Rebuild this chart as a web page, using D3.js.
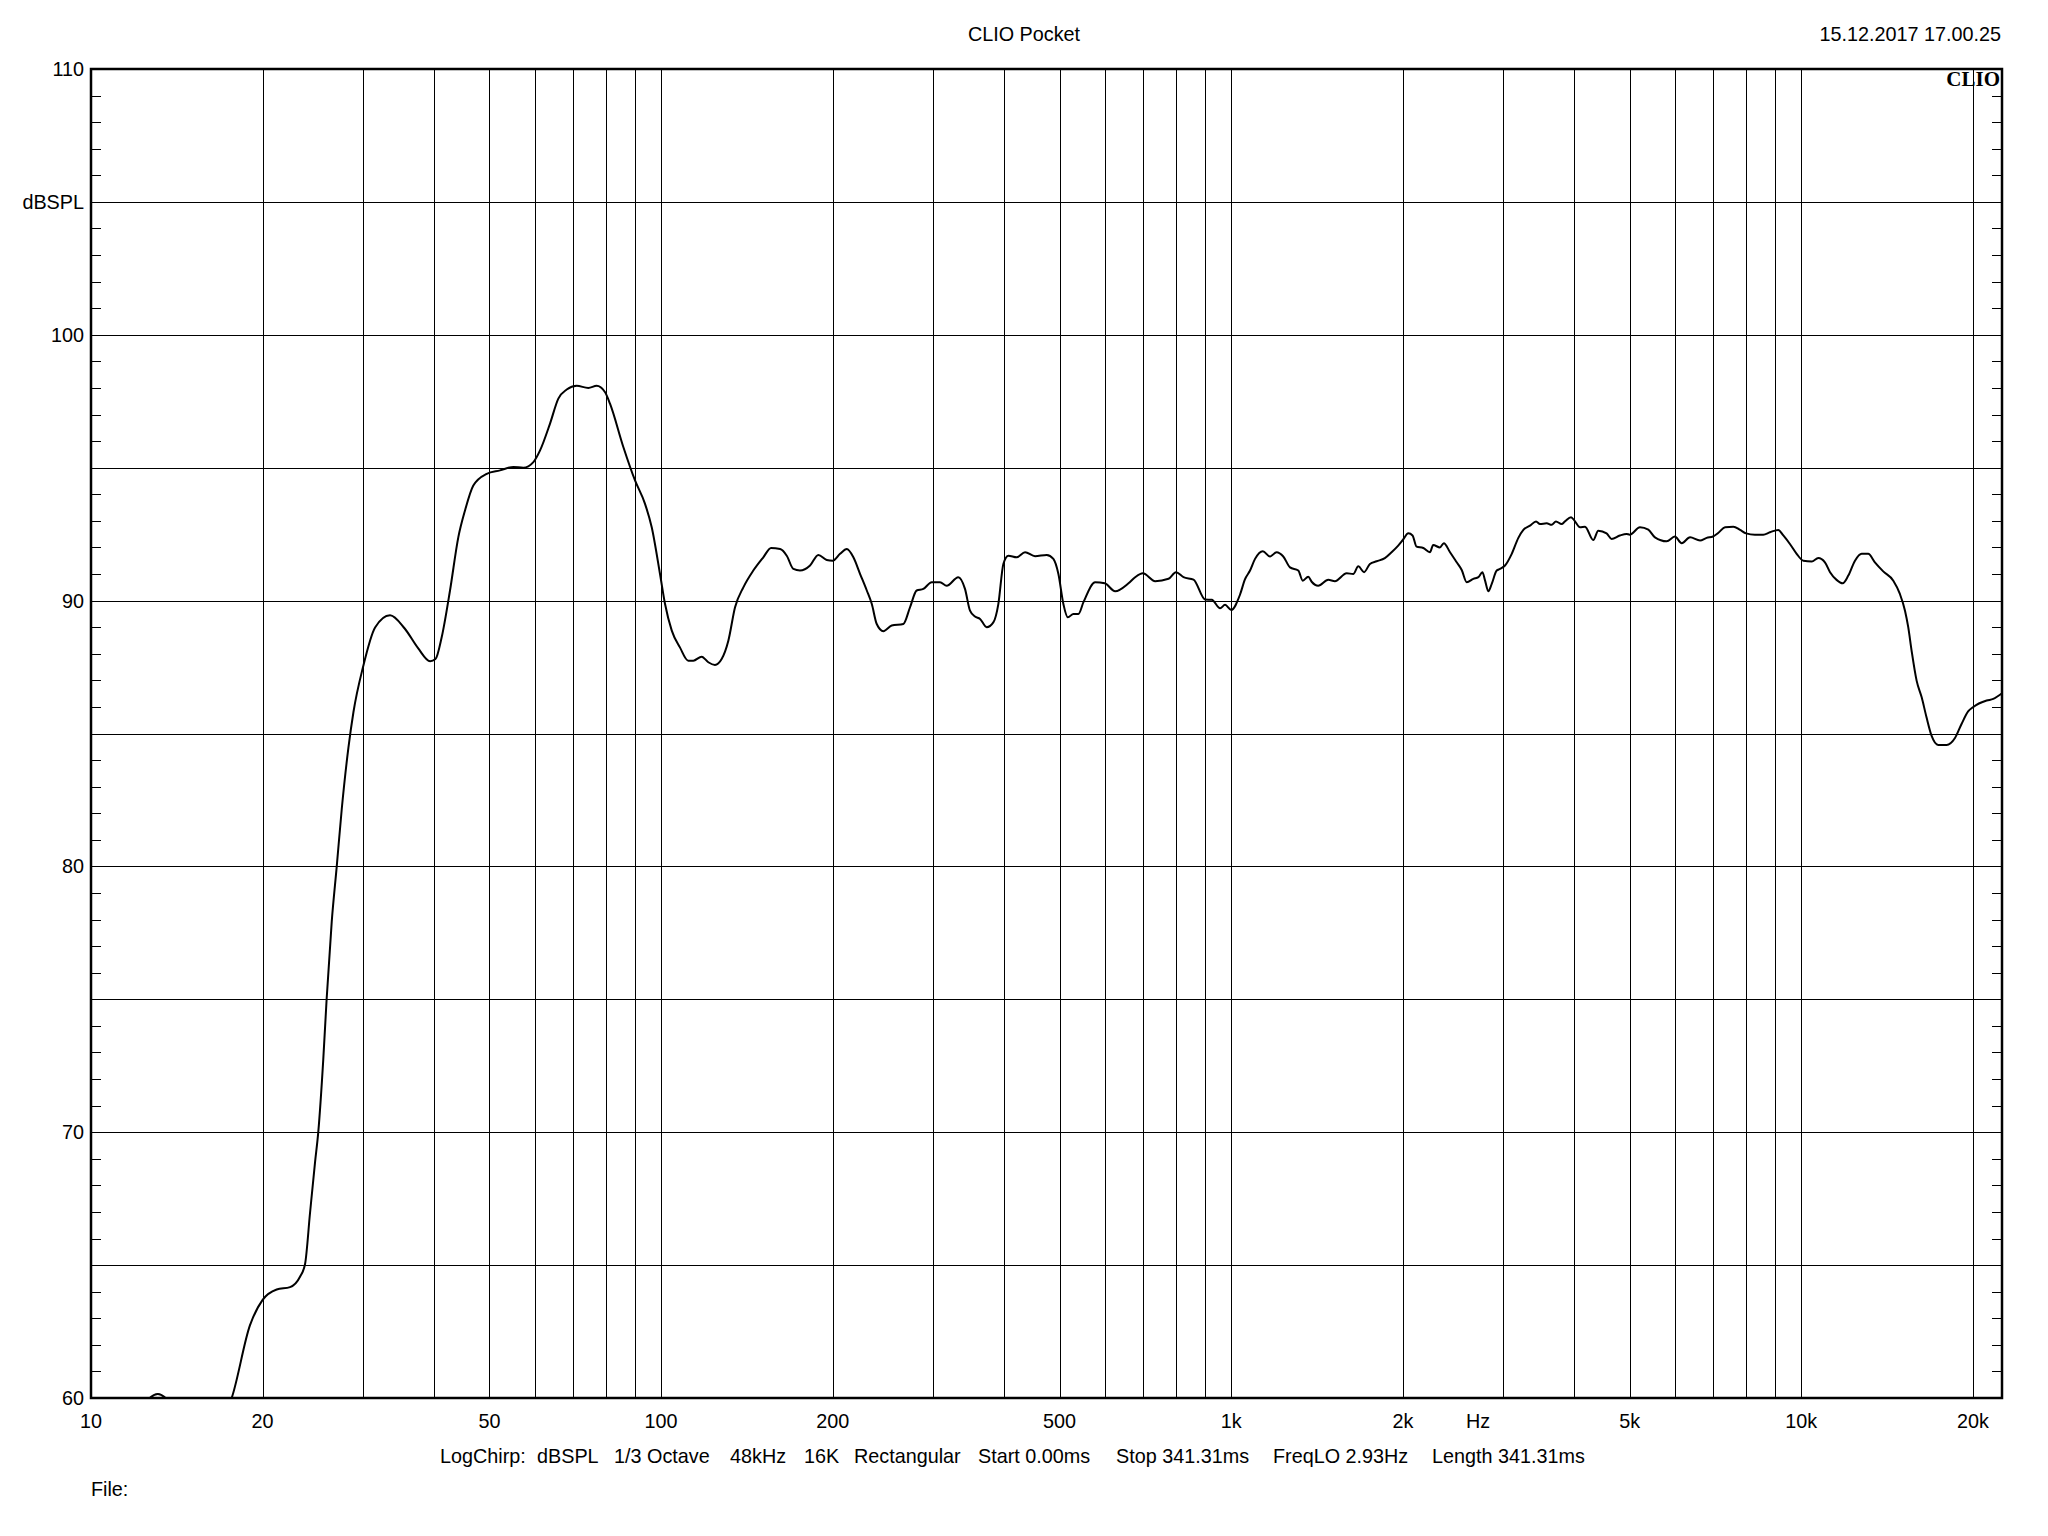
<!DOCTYPE html>
<html>
<head>
<meta charset="utf-8">
<script src="https://cdn.jsdelivr.net/npm/d3@7"></script>
<style>
  html, body { margin: 0; padding: 0; background: #fff; }
  text { font-family: "Liberation Sans", Arial, sans-serif; fill: #000; }
</style>
</head>
<body>
<svg id="chart" width="2048" height="1536"></svg>
<script>
// ---------- data ----------
const freqHz = [
  10, 11, 12, 12.6, 13.1, 13.6, 14.3, 15.3, 16.3, 17.0, 17.65, 19.0, 20.0, 21.17, 22.34, 23.26, 23.74,
  24.22, 24.72, 25.04, 25.55, 25.9, 26.44, 26.98, 27.53, 28.28, 28.86, 30.0, 31.5, 33.46, 35.5, 37.5,
  39.33, 40.2, 41.22, 42.63, 44.09, 45.29, 46.84, 49.44, 52.17, 55.07, 57.33, 59.7, 61.33, 63.85, 66.03,
  68.3, 71.11, 74.53, 77.09, 79.7, 81.35, 85.85, 90, 93.71, 96.28, 99.56, 101.6, 104.4, 107.9, 111.6,
  113.9, 117.8, 121.0, 124.3, 127.7, 131.2, 134.8, 139.4, 145.1, 151.1, 155.9, 161.7, 166.1, 170.6,
  175.2, 182.5, 188.7, 195.2, 200, 206, 211.7, 217.4, 223.4, 229.5, 234.2, 238.9, 245.4, 253.8, 266,
  273.3, 280.7, 288.4, 298.3, 308.5, 316.9, 332.1, 341.2, 348.2, 355.3, 362.6, 372.5, 382.6, 390.4,
  398.4, 406.5, 420.5, 434.9, 452.8, 474.7, 487.6, 497.6, 507.7, 516.9, 528.8, 539.5, 550.6, 577.3,
  600, 625.8, 660.4, 678.4, 700, 735.6, 776.3, 800, 824.7, 858.8, 900, 924.4, 956, 975.3, 1000, 1036,
  1057, 1079, 1101, 1136, 1169.5, 1201, 1234, 1268, 1311, 1335, 1365, 1384, 1421, 1480, 1520, 1594,
  1637, 1671, 1710, 1751, 1799, 1860, 1911, 1963, 2000, 2045, 2080, 2114, 2172, 2231, 2261, 2323, 2360,
  2420, 2486, 2537, 2589, 2659, 2714, 2758, 2788, 2825, 2864, 2922, 2961, 3022, 3105, 3189, 3254, 3343,
  3425, 3480, 3575, 3648, 3712, 3798, 3850, 3945, 4000, 4091, 4174, 4316, 4404, 4554, 4647, 4806, 4937,
  5000, 5212, 5390, 5537, 5805, 6000, 6168, 6379, 6643, 6823, 7000, 7154, 7349, 7600, 7808, 8000, 8291,
  8575, 8810, 9112, 9298, 9550, 9813, 10080, 10430, 10710, 11000, 11230, 11530, 11820, 12090, 12420,
  12760, 13100, 13460, 13920, 14500, 14890, 15200, 15400, 15610, 15930, 16260, 16580, 16920, 17380,
  17980, 18600, 19100, 19630, 20000, 21140, 21710, 22490
];
const splDb = [
  55.5, 57.5, 59.3, 59.95, 60.15, 59.95, 59.3, 58.6, 58.6, 59.2, 60.0, 62.73, 63.69, 64.08, 64.17, 64.56, 65.04,
  66.96, 68.88, 70.0, 72.73, 75.0, 77.92, 80.0, 82.15, 84.46, 85.8, 87.5, 88.99, 89.45, 88.95, 88.2,
  87.72, 87.8, 88.62, 90.38, 92.39, 93.39, 94.33, 94.77, 94.9, 95.03, 95.0, 95.21, 95.65, 96.66, 97.6,
  97.94, 98.08, 98.0, 98.08, 97.85, 97.41, 95.78, 94.52, 93.64, 92.76, 91.0, 89.87, 88.87, 88.24, 87.74,
  87.74, 87.89, 87.68, 87.58, 87.8, 88.49, 89.75, 90.5, 91.13, 91.63, 91.98, 91.94, 91.69, 91.19,
  91.13, 91.32, 91.72, 91.53, 91.5, 91.76, 91.94, 91.63, 91.0, 90.38, 89.87, 89.12, 88.85, 89.06, 89.12,
  89.75, 90.38, 90.44, 90.69, 90.69, 90.56, 90.88, 90.44, 89.62, 89.4, 89.31, 89.0, 89.18, 89.87,
  91.38, 91.69, 91.63, 91.82, 91.67, 91.72, 91.57, 91.0, 89.87, 89.37, 89.5, 89.5, 89.94, 90.69,
  90.65, 90.35, 90.65, 90.88, 91.03, 90.73, 90.82, 91.07, 90.88, 90.79, 90.04, 90.03, 89.71, 89.84, 89.65, 90.22,
  90.8, 91.13, 91.57, 91.86, 91.66, 91.82, 91.66, 91.25, 91.13, 90.75, 90.9, 90.71, 90.56, 90.78, 90.73, 91.03,
  91.0, 91.29, 91.07, 91.38, 91.48, 91.6, 91.82, 92.07, 92.28, 92.53, 92.45, 92.03, 91.98, 91.82, 92.09, 92.0, 92.16,
  91.82, 91.44, 91.15, 90.69, 90.82, 90.88, 91.07, 90.75, 90.35, 90.63, 91.13, 91.19, 91.32, 91.76, 92.36, 92.66, 92.82,
  92.98, 92.88, 92.91, 92.85, 92.98, 92.88, 92.98, 93.14, 93.01, 92.76, 92.78, 92.28, 92.63, 92.53, 92.32, 92.45, 92.51,
  92.48, 92.76, 92.67, 92.38, 92.23, 92.41, 92.16, 92.38, 92.26, 92.36, 92.41, 92.55, 92.76, 92.78, 92.66, 92.53, 92.48,
  92.48, 92.57, 92.66, 92.45, 92.13, 91.76, 91.5, 91.47, 91.6, 91.44, 91.07, 90.78, 90.65, 90.94, 91.5,
  91.76, 91.76, 91.44, 91.1, 90.75, 90.25, 89.62, 89.0, 88.12, 86.99, 86.36, 85.61, 84.92, 84.57,
  84.57, 84.83, 85.36, 85.84, 85.99, 86.24, 86.3, 86.51
];
const freqDomain = [10, 22490];
const dbDomain = [60, 110];
const gridFreqs = [20, 30, 40, 50, 60, 70, 80, 90, 100, 200, 300, 400, 500, 600, 700, 800, 900,
  1000, 2000, 3000, 4000, 5000, 6000, 7000, 8000, 9000, 10000, 20000];
const xTickValues = [10, 20, 50, 100, 200, 500, 1000, 2000, 5000, 10000, 20000];
const xTickLabels = ["10", "20", "50", "100", "200", "500", "1k", "2k", "5k", "10k", "20k"];
const hzLabelFreq = 2710;
const gridDb = [65, 70, 75, 80, 85, 90, 95, 100, 105];
const yTickValues = [60, 70, 80, 90, 100, 105, 110];
const yTickLabels = ["60", "70", "80", "90", "100", "dBSPL", "110"];
const minorDb = d3.range(61, 110).filter(v => v % 5 !== 0);
const infoItems = ["LogChirp:", "dBSPL", "1/3 Octave", "48kHz", "16K", "Rectangular",
  "Start 0.00ms", "Stop 341.31ms", "FreqLO 2.93Hz", "Length 341.31ms"];
const infoX = [440, 537, 614, 730, 804, 854, 978, 1116, 1273, 1432];

// ---------- layout ----------
const L = 91, R = 2002, T = 69, B = 1398;
const svg = d3.select("#chart");
svg.append("rect").attr("width", 2048).attr("height", 1536).attr("fill", "#fff");

const x = d3.scaleLog().domain(freqDomain).range([L, R]);
const y = d3.scaleLinear().domain(dbDomain).range([B, T]);
const FS = 19.8;

// grid
const g = svg.append("g").attr("shape-rendering", "crispEdges");
g.selectAll("line.vg").data(gridFreqs).join("line")
  .attr("x1", d => Math.round(x(d)) + 0.5).attr("x2", d => Math.round(x(d)) + 0.5)
  .attr("y1", T).attr("y2", B).attr("stroke", "#000").attr("stroke-width", 1);
g.selectAll("line.hg").data(gridDb).join("line")
  .attr("x1", L).attr("x2", R)
  .attr("y1", d => Math.round(y(d)) + 0.5).attr("y2", d => Math.round(y(d)) + 0.5)
  .attr("stroke", "#000").attr("stroke-width", 1);
// minor ticks left and right
g.selectAll("line.ml").data(minorDb).join("line")
  .attr("x1", L).attr("x2", L + 10)
  .attr("y1", d => Math.round(y(d)) + 0.5).attr("y2", d => Math.round(y(d)) + 0.5)
  .attr("stroke", "#000").attr("stroke-width", 1);
g.selectAll("line.mr").data(minorDb).join("line")
  .attr("x1", R - 10).attr("x2", R)
  .attr("y1", d => Math.round(y(d)) + 0.5).attr("y2", d => Math.round(y(d)) + 0.5)
  .attr("stroke", "#000").attr("stroke-width", 1);

// curve
svg.append("clipPath").attr("id", "plotclip").append("rect")
  .attr("x", L).attr("y", T).attr("width", R - L).attr("height", B - T);
const pts = freqHz.map((f, i) => [f, splDb[i]]);
const line = d3.line().x(d => x(d[0])).y(d => y(d[1])).curve(d3.curveMonotoneX);
svg.append("path").datum(pts)
  .attr("clip-path", "url(#plotclip)")
  .attr("d", line).attr("fill", "none").attr("stroke", "#000")
  .attr("stroke-width", 2).attr("stroke-linejoin", "round");

// frame
svg.append("rect").attr("x", L).attr("y", T).attr("width", R - L).attr("height", B - T)
  .attr("fill", "none").attr("stroke", "#000").attr("stroke-width", 2.5);

// logo
svg.append("text").attr("x", 2000).attr("y", 86).attr("text-anchor", "end")
  .style("font-family", "'Liberation Serif', 'Times New Roman', serif")
  .style("font-weight", "bold").style("font-size", "21px").text("CLIO");

// x tick labels
svg.selectAll("text.xt").data(xTickValues).join("text")
  .attr("x", d => x(d)).attr("y", 1428).attr("text-anchor", "middle")
  .style("font-size", FS + "px").text((d, i) => xTickLabels[i]);
svg.append("text").attr("x", x(hzLabelFreq)).attr("y", 1428).attr("text-anchor", "middle")
  .style("font-size", FS + "px").text("Hz");

// y tick labels
svg.selectAll("text.yt").data(yTickValues).join("text")
  .attr("x", 84).attr("y", d => y(d) + 7).attr("text-anchor", "end")
  .style("font-size", FS + "px").text((d, i) => yTickLabels[i]);

// header
svg.append("text").attr("x", 1024).attr("y", 41).attr("text-anchor", "middle")
  .style("font-size", FS + "px").text("CLIO Pocket");
svg.append("text").attr("x", 2001).attr("y", 41).attr("text-anchor", "end")
  .style("font-size", FS + "px").text("15.12.2017 17.00.25");

// footer
svg.selectAll("text.info").data(infoItems).join("text")
  .attr("x", (d, i) => infoX[i]).attr("y", 1463)
  .style("font-size", FS + "px").text(d => d);
svg.append("text").attr("x", 91).attr("y", 1496).style("font-size", FS + "px").text("File:");
</script>
</body>
</html>
